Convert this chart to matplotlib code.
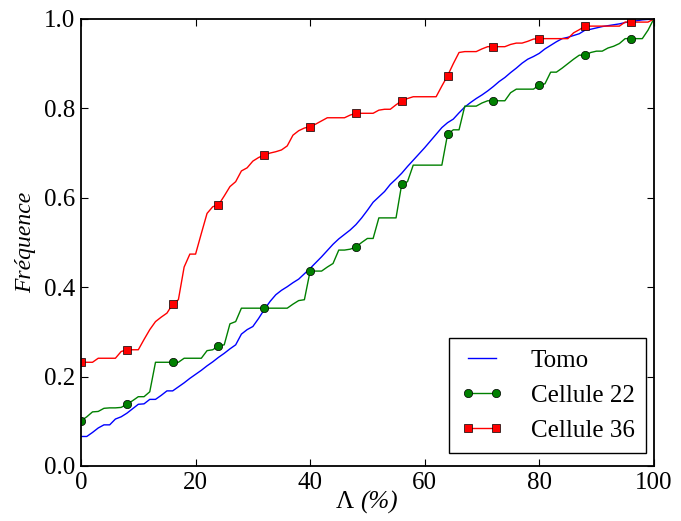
import numpy as np
import matplotlib
matplotlib.use('Agg')
import matplotlib.pyplot as plt

plt.rcParams['font.family'] = ['Liberation Serif', 'DejaVu Serif']

# Lambda grid (%)
lam = list(range(0, 101))

tomo = [0.066, 0.066, 0.075, 0.085, 0.092, 0.092, 0.105, 0.110, 0.118, 0.128,
        0.138, 0.139, 0.149, 0.149, 0.158, 0.168, 0.168, 0.177, 0.186, 0.196,
        0.205, 0.214, 0.224, 0.233, 0.243, 0.252, 0.262, 0.271, 0.295, 0.305,
        0.312, 0.330, 0.350, 0.368, 0.383, 0.393, 0.401, 0.410, 0.418, 0.430,
        0.442, 0.455, 0.468, 0.482, 0.496, 0.508, 0.518, 0.528, 0.540, 0.555,
        0.572, 0.590, 0.602, 0.614, 0.630, 0.642, 0.655, 0.670, 0.684, 0.698,
        0.712, 0.727, 0.742, 0.757, 0.768, 0.776, 0.790, 0.803, 0.813, 0.822,
        0.830, 0.839, 0.849, 0.860, 0.869, 0.880, 0.890, 0.901, 0.910, 0.916,
        0.923, 0.933, 0.941, 0.949, 0.956, 0.959, 0.963, 0.967, 0.975, 0.977,
        0.980, 0.983, 0.985, 0.987, 0.989, 0.992, 0.994, 0.996, 0.998, 0.999,
        1.000]

cell22 = [0.101, 0.110, 0.121, 0.122, 0.129, 0.130, 0.130, 0.131, 0.138, 0.146,
          0.155, 0.155, 0.166, 0.232, 0.232, 0.232, 0.232, 0.232, 0.241, 0.241,
          0.241, 0.241, 0.258, 0.260, 0.269, 0.271, 0.318, 0.323, 0.353, 0.353,
          0.353, 0.353, 0.353, 0.353, 0.353, 0.353, 0.353, 0.362, 0.370, 0.372,
          0.436, 0.436, 0.436, 0.445, 0.453, 0.483, 0.483, 0.485, 0.490, 0.500,
          0.509, 0.509, 0.555, 0.555, 0.555, 0.555, 0.631, 0.636, 0.673, 0.673,
          0.673, 0.673, 0.673, 0.673, 0.742, 0.752, 0.752, 0.805, 0.805, 0.805,
          0.812, 0.817, 0.817, 0.817, 0.817, 0.835, 0.843, 0.843, 0.843, 0.843,
          0.852, 0.855, 0.881, 0.881, 0.890, 0.900, 0.910, 0.919, 0.919, 0.925,
          0.928, 0.928, 0.935, 0.939, 0.945, 0.956, 0.956, 0.956, 0.956, 0.975,
          1.000]

cell36 = [0.232, 0.232, 0.232, 0.241, 0.241, 0.241, 0.241, 0.256, 0.260, 0.260,
          0.260, 0.283, 0.305, 0.323, 0.333, 0.342, 0.362, 0.372, 0.445, 0.474,
          0.474, 0.520, 0.565, 0.580, 0.584, 0.604, 0.625, 0.636, 0.660, 0.667,
          0.682, 0.690, 0.696, 0.700, 0.703, 0.707, 0.716, 0.740, 0.750, 0.756,
          0.759, 0.765, 0.772, 0.779, 0.779, 0.779, 0.779, 0.785, 0.789, 0.789,
          0.789, 0.789, 0.796, 0.798, 0.798, 0.808, 0.817, 0.822, 0.826, 0.826,
          0.826, 0.826, 0.826, 0.850, 0.873, 0.900, 0.925, 0.927, 0.927, 0.927,
          0.933, 0.938, 0.938, 0.938, 0.938, 0.943, 0.946, 0.946, 0.950, 0.955,
          0.956, 0.956, 0.956, 0.956, 0.956, 0.956, 0.969, 0.976, 0.984, 0.984,
          0.984, 0.984, 0.984, 0.984, 0.984, 0.993, 0.993, 0.993, 0.993, 0.993,
          1.000]

labels = ['Tomo', 'Cellule 22', 'Cellule 36']

fig = plt.figure(figsize=(6.81, 5.21), dpi=100)
ax = fig.add_axes([0.119, 0.1056, 0.841, 0.858])

ax.plot(lam, tomo, color='b', lw=1.0, label=labels[0])
ax.plot(lam, cell22, color='g', lw=1.0, marker='o', ms=6, markevery=8,
        mec='k', mew=0.5, label=labels[1])
ax.plot(lam, cell36, color='r', lw=1.0, marker='s', ms=6, markevery=8,
        mec='k', mew=0.5, label=labels[2])

ax.set_xlim(0, 100)
ax.set_ylim(0, 1)
ax.set_xticks([0, 20, 40, 60, 80, 100])
ax.set_yticks([0.0, 0.2, 0.4, 0.6, 0.8, 1.0])
ax.set_yticklabels(['0.0', '0.2', '0.4', '0.6', '0.8', '1.0'])
ax.tick_params(direction='in', top=True, right=True, length=5, width=0.8,
               labelsize=18, pad=4)
for s in ax.spines.values():
    s.set_linewidth(1.3)

# x label: upright Lambda, italic (%)
ax.text(0.477, -0.056, 'Λ', transform=ax.transAxes, ha='right', va='top',
        fontsize=18)
ax.text(0.488, -0.056, '(%)', transform=ax.transAxes, ha='left', va='top',
        fontsize=18, style='italic')
ax.set_ylabel('Fréquence', fontsize=17, style='italic', labelpad=6)

leg = ax.legend(loc='lower right', bbox_to_anchor=(0.986, 0.029),
                borderaxespad=0, numpoints=2, fontsize=18, fancybox=False,
                framealpha=1, edgecolor='k', handlelength=1.7,
                handletextpad=1.1, labelspacing=0.5, borderpad=0.45)
leg.get_frame().set_linewidth(1.0)

fig.savefig('out.png', dpi=100)
